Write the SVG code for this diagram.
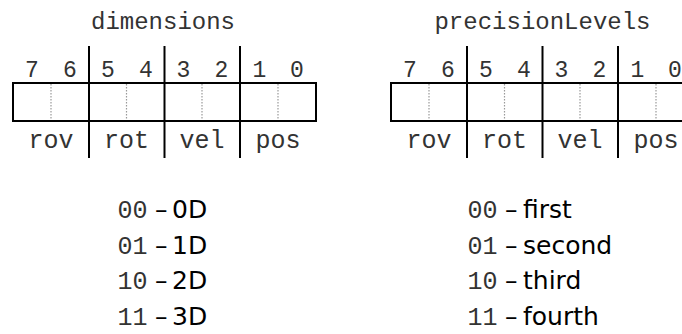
<svg xmlns="http://www.w3.org/2000/svg" width="682" height="334" viewBox="0 0 682 334">
  <style>
    .mono { font-family: "Liberation Mono", "Courier New", monospace; fill: #333; }
    .title { font-size: 24px; text-anchor: middle; }
    .bit { font-size: 23px; text-anchor: middle; }
    .field { font-size: 25px; text-anchor: middle; }
    .code { font-size: 25px; }
    .sans { font-family: "DejaVu Sans", Verdana, sans-serif; font-size: 25px; fill: #000; }
    .frame { fill: none; stroke: #000; stroke-width: 2; }
    .sep { stroke: #000; stroke-width: 2; }
    .half { stroke: #999; stroke-width: 1.2; stroke-dasharray: 1.5 1.5; }
  </style>

  <defs>
    <!-- one 8-bit register: frame, nibble separators, bit-pair dividers, bit numbers, field names -->
    <g id="register">
      <line class="half" x1="51" y1="84" x2="51" y2="120"/>
      <line class="half" x1="126.5" y1="84" x2="126.5" y2="120"/>
      <line class="half" x1="202" y1="84" x2="202" y2="120"/>
      <line class="half" x1="278" y1="84" x2="278" y2="120"/>
      <rect class="frame" x="13" y="83" width="303" height="38"/>
      <line class="sep" x1="89" y1="46" x2="89" y2="158"/>
      <line class="sep" x1="164.5" y1="46" x2="164.5" y2="158"/>
      <line class="sep" x1="240" y1="46" x2="240" y2="158"/>
      <g class="mono bit">
        <text x="32" y="76.5">7</text>
        <text x="70" y="76.5">6</text>
        <text x="108" y="76.5">5</text>
        <text x="146" y="76.5">4</text>
        <text x="183.5" y="76.5">3</text>
        <text x="221.5" y="76.5">2</text>
        <text x="259.5" y="76.5">1</text>
        <text x="297" y="76.5">0</text>
      </g>
      <g class="mono field">
        <text x="51" y="148">rov</text>
        <text x="126.5" y="148">rot</text>
        <text x="202" y="148">vel</text>
        <text x="278" y="148">pos</text>
      </g>
    </g>
  </defs>

  <g id="dimensions">
    <text class="mono title" x="163" y="29">dimensions</text>
    <use href="#register"/>
  </g>

  <g id="precisionLevels">
    <text class="mono title" x="542.5" y="29">precisionLevels</text>
    <use href="#register" x="378"/>
  </g>

  <g id="dimensions-values">
    <text class="mono code" x="117.5" y="218">00</text>
    <text class="sans" x="155" y="218">–</text>
    <text class="sans" x="172" y="218">0D</text>
    <text class="mono code" x="117.5" y="253.5">01</text>
    <text class="sans" x="155" y="253.5">–</text>
    <text class="sans" x="172" y="253.5">1D</text>
    <text class="mono code" x="117.5" y="289">10</text>
    <text class="sans" x="155" y="289">–</text>
    <text class="sans" x="172" y="289">2D</text>
    <text class="mono code" x="117.5" y="324.5">11</text>
    <text class="sans" x="155" y="324.5">–</text>
    <text class="sans" x="172" y="324.5">3D</text>
  </g>

  <g id="precision-values">
    <text class="mono code" x="467.5" y="218">00</text>
    <text class="sans" x="505" y="218">–</text>
    <text class="sans" x="523" y="218">first</text>
    <text class="mono code" x="467.5" y="253.5">01</text>
    <text class="sans" x="505" y="253.5">–</text>
    <text class="sans" x="523" y="253.5">second</text>
    <text class="mono code" x="467.5" y="289">10</text>
    <text class="sans" x="505" y="289">–</text>
    <text class="sans" x="523" y="289">third</text>
    <text class="mono code" x="467.5" y="324.5">11</text>
    <text class="sans" x="505" y="324.5">–</text>
    <text class="sans" x="523" y="324.5">fourth</text>
  </g>
</svg>
